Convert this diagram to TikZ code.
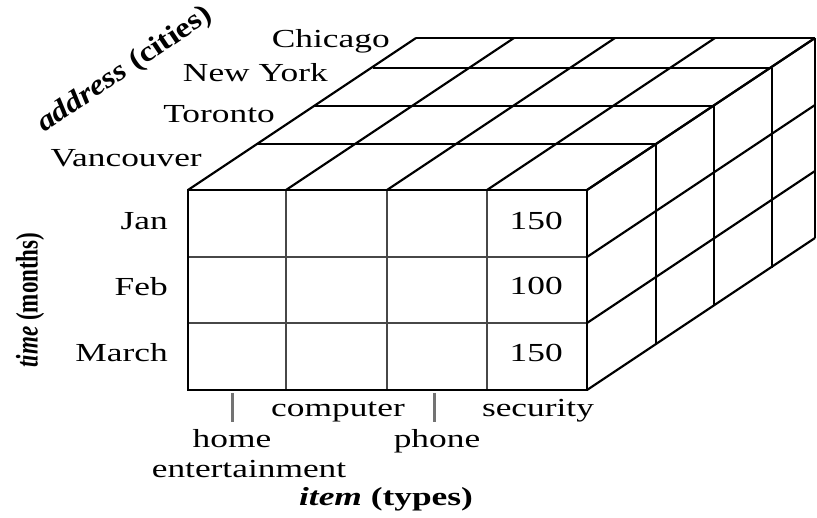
\documentclass[tikz,border=0pt]{standalone}
\usepackage{fontspec}
\setmainfont{Liberation Serif}
\begin{document}
\begin{tikzpicture}[x=1pt,y=-1pt,
  edge/.style={line width=2.1pt, black},
  inner/.style={line width=2.5pt, black!72},
  lbl/.style={font=\fontsize{26}{30}\selectfont, xscale=1.36, inner sep=0pt},
  axislbl/.style={font=\fontsize{26}{30}\selectfont\bfseries, inner sep=0pt},
  tickln/.style={line width=3pt, black!55}]
\path[use as bounding box] (0,0) rectangle (817,518);

% front grid
\foreach \i/\x in {0/188,1/286,2/387,3/487,4/587}{
  \foreach \j/\y in {0/190,1/257,2/323,3/390}{
    \coordinate (f\i\j) at (\x,\y);
  }
}
% top and right face points at each depth level
\foreach \k/\dx/\dy in {0/0/0,1/69/-46,2/127/-84,3/185/-122,4/228/-152}{
  \foreach \i/\x in {0/188,1/286,2/387,3/487,4/587}{
    \coordinate (t\i\k) at (\x+\dx,190+\dy);
  }
  \foreach \j/\y in {0/190,1/257,2/323,3/390}{
    \coordinate (r\j\k) at (587+\dx,\y+\dy);
  }
}

% top face
\foreach \k in {1,...,4} \draw[edge] (t0\k) -- (t4\k);
\foreach \i in {0,...,4} \draw[edge] (t\i0) -- (t\i4);
% right face
\foreach \k in {1,...,4} \draw[edge] (r0\k) -- (r3\k);
\foreach \j in {0,...,3} \draw[edge] (r\j0) -- (r\j4);
% front face
\foreach \i in {1,2,3} \draw[inner] (f\i0) -- (f\i3);
\foreach \j in {1,2} \draw[inner] (f0\j) -- (f4\j);
\draw[edge] (f00) rectangle (f43);

% city labels
\node[lbl, anchor=base east] (chicago) at (390,48) {Chicago};
\node[lbl, anchor=base east] (newyork) at (328,82) {New York};
\node[lbl, anchor=base east] (toronto) at (275,123) {Toronto};
\node[lbl, anchor=base east] (vancouver) at (202,167) {Vancouver};

% month labels
\node[lbl, anchor=base east] (jan) at (168,230) {Jan};
\node[lbl, anchor=base east] (feb) at (168,296) {Feb};
\node[lbl, anchor=base east] (march) at (168,362) {March};

% values
\node[lbl, anchor=base east] (v1) at (563,230) {150};
\node[lbl, anchor=base east] (v2) at (563,295) {100};
\node[lbl, anchor=base east] (v3) at (563,362) {150};

% item ticks
\coordinate (tkAa) at (232,393);
\coordinate (tkAb) at (232,422);
\coordinate (tkBa) at (434,393);
\coordinate (tkBb) at (434,422);
\draw[tickln] (tkAa) -- (tkAb);
\draw[tickln] (tkBa) -- (tkBb);

% item labels
\node[lbl, anchor=base] (computer) at (338,417) {computer};
\node[lbl, anchor=base] (security) at (538,417) {security};
\node[lbl, anchor=base] (home) at (232,448) {home};
\node[lbl, anchor=base] (phone) at (437,448) {phone};
\node[lbl, anchor=base] (entert) at (249,478) {entertainment};

% axis labels
\node[axislbl, anchor=base, xscale=1.36] (item) at (386,506) {\textit{item} (types)};
\node[axislbl, rotate=34, xscale=1.27, yscale=1.1] (addr) at (125,70) {\textit{address} (cities)};
\node[axislbl, font=\fontsize{23}{28}\selectfont\bfseries, rotate=90, yscale=1.36] (time) at (30,300) {\textit{time} (months)};
\end{tikzpicture}
\end{document}
